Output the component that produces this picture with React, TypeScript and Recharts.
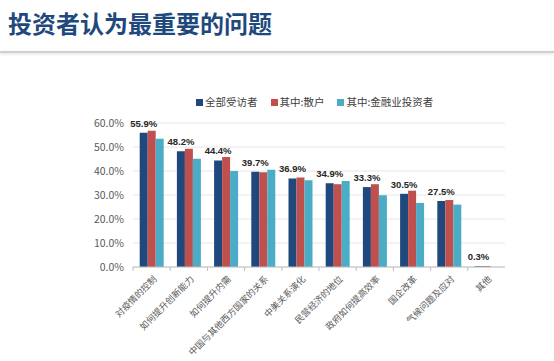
import React from "react";
import { BarChart, Bar, XAxis, YAxis, CartesianGrid, LabelList } from "recharts";

const categories = [
  "对疫情的控制",
  "如何提升创新能力",
  "如何提升内需",
  "中国与其他西方国家的关系",
  "中美关系演化",
  "民营经济的地位",
  "政府如何提高效率",
  "国企改革",
  "气候问题及应对",
  "其他",
];
const allRespondents = [55.9, 48.2, 44.4, 39.7, 36.9, 34.9, 33.3, 30.5, 27.5, 0.3];
const retail = [56.8, 49.3, 45.8, 39.5, 37.3, 34.5, 34.5, 31.8, 27.9, 0.4];
const financial = [53.4, 45.1, 40.0, 40.5, 36.1, 35.8, 29.9, 26.7, 26.0, 0];
const yTicks = [0, 10, 20, 30, 40, 50, 60];
const seriesNames = ["全部受访者", "其中:散户", "其中:金融业投资者"];
const colors = ["#1F497D", "#C0504D", "#4BACC6"];

const data = categories.map((c, i) => ({
  name: c,
  all: allRespondents[i],
  retail: retail[i],
  fin: financial[i],
}));

const FONT = "'Noto Sans CJK SC', 'Noto Sans', sans-serif";

const XTick = (props: any) => {
  const { x, y, payload } = props;
  const half = payload && payload.offset ? payload.offset : 18.6;
  return (
    <g>
      <line x1={x - half} y1={y - 8} x2={x - half} y2={y - 4} stroke="#BFBFBF" />
      <text
        x={x + 4}
        y={y + 3}
        textAnchor="end"
        fontSize={9}
        fill="#595959"
        fontFamily={FONT}
        transform={`rotate(-45, ${x + 4}, ${y + 3})`}
        dominantBaseline="middle"
      >
        {payload.value}
      </text>
    </g>
  );
};

export default function App() {
  return (
    <div style={{ position: "absolute", left: 0, top: 0, width: 554, height: 361, background: "#fff", overflow: "hidden" }}>
      <div
        style={{
          position: "absolute",
          left: 8,
          top: 8,
          fontFamily: FONT,
          fontWeight: 700,
          fontSize: 24,
          lineHeight: "30px",
          color: "#1F497D",
          letterSpacing: 0,
        }}
      >
        投资者认为最重要的问题
      </div>
      <div
        style={{
          position: "absolute",
          left: 0,
          top: 51,
          width: 554,
          height: 2,
          background: "#D0D0D0",
          boxShadow: "0 1px 3px rgba(0,0,0,0.15)",
        }}
      />
      <div
        style={{
          position: "absolute",
          left: 196,
          top: 94,
          display: "flex",
          alignItems: "center",
          fontFamily: FONT,
          fontSize: 10.5,
          lineHeight: "16px",
          color: "#404040",
          whiteSpace: "nowrap",
        }}
      >
        {seriesNames.map((n, i) => (
          <div key={n} style={{ display: "flex", alignItems: "center", marginRight: 13 }}>
            <span style={{ display: "inline-block", width: 7, height: 7, background: colors[i], marginRight: 2 }} />
            <span>{n}</span>
          </div>
        ))}
      </div>
      <div style={{ position: "absolute", left: 0, top: 0 }}>
        <BarChart
          width={554}
          height={361}
          data={data}
          margin={{ top: 123, right: 49, bottom: 14, left: 0 }}
          barCategoryGap="18%"
          barGap={0}
        >
          <CartesianGrid vertical={false} stroke="#E6E6E6" />
          <XAxis
            dataKey="name"
            interval={0}
            height={80}
            tickLine={false}
            axisLine={{ stroke: "#BFBFBF" }}
            tick={<XTick />}
          />
          <YAxis
            width={133}
            domain={[0, 60]}
            ticks={yTicks}
            axisLine={false}
            tickLine={false}
            tickMargin={3}
            tickFormatter={(v: number) => v.toFixed(1) + "%"}
            tick={{ fontSize: 10.5, fill: "#595959", fontFamily: FONT }}
          />
          <Bar dataKey="all" name={seriesNames[0]} fill={colors[0]} isAnimationActive={false}>
            <LabelList
              dataKey="all"
              position="top"
              offset={6}
              formatter={(v: any) => Number(v).toFixed(1) + "%"}
              style={{ fontSize: 9.5, fontWeight: 700, fill: "#262626", fontFamily: "'Liberation Sans', Arial, sans-serif" }}
            />
          </Bar>
          <Bar dataKey="retail" name={seriesNames[1]} fill={colors[1]} isAnimationActive={false} />
          <Bar dataKey="fin" name={seriesNames[2]} fill={colors[2]} isAnimationActive={false} />
        </BarChart>
      </div>
    </div>
  );
}
